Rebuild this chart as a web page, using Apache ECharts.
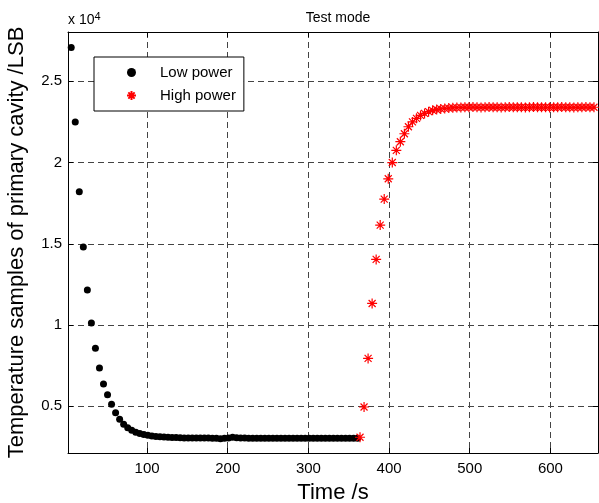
<!DOCTYPE html>
<html>
<head>
<meta charset="utf-8">
<script src="https://cdn.jsdelivr.net/npm/echarts@6/dist/echarts.min.js"></script>
<style>html,body{margin:0;padding:0;background:#fff}#c{width:599px;height:503px}</style>
</head>
<body>
<div id="c"></div>
<script>
var lowTime = [6,11,16,21,26,31,36,41,46,51,56,61,66,71,76,81,86,91,96,101,106,111,116,121,126,131,136,141,146,151,156,161,166,171,176,181,186,191,196,201,206,211,216,221,226,231,236,241,246,251,256,261,266,271,276,281,286,291,296,301,306,311,316,321,326,331,336,341,346,351,356,361];
var lowValues = [27070,22500,18200,14800,12160,10120,8570,7360,6370,5720,5130,4610,4200,3900,3690,3530,3410,3330,3270,3220,3180,3150,3130,3110,3100,3090,3080,3070,3060,3060,3055,3055,3050,3050,3050,3045,3040,3000,3030,3050,3100,3070,3050,3050,3045,3045,3040,3040,3040,3040,3035,3035,3035,3035,3035,3030,3030,3030,3030,3030,3030,3030,3030,3030,3030,3030,3030,3030,3030,3030,3030,3030];
var highTime = [364,369,374,379,384,389,394,399,404,409,414,419,424,429,434,439,444,449,454,459,464,469,474,479,484,489,494,499,504,509,514,519,524,529,534,539,544,549,554,559,564,569,574,579,584,589,594,599,604,609,614,619,624,629,634,639,644,649,654];
var highValues = [3100,4960,7950,11330,14040,16150,17750,19000,20000,20750,21280,21770,22200,22500,22720,22900,23020,23130,23210,23260,23300,23330,23350,23370,23380,23390,23400,23400,23410,23400,23390,23400,23410,23400,23400,23390,23400,23410,23400,23400,23400,23390,23400,23410,23400,23400,23400,23390,23400,23400,23410,23400,23400,23390,23400,23400,23410,23400,23400];
var xTicks = [100,200,300,400,500,600];
var yTicks = [5000,10000,15000,20000,25000];
var seriesNames = ['Low power','High power'];
var titleText = 'Test mode';
var xName = 'Time /s';
var yName = 'Temperature samples of primary cavity /LSB';

function zip(a,b){var r=[];for(var i=0;i<a.length;i++)r.push([a[i],b[i]]);return r;}
var star = 'path://M0,-10 L0,10 M-10,0 L10,0 M-7,-7 L7,7 M-7,7 L7,-7';
var font = 'Liberation Sans, Arial, Helvetica, sans-serif';
var gridLine = {show:true, lineStyle:{color:'#444', type:[6,4], width:1}};
var chart = echarts.init(document.getElementById('c'));
chart.setOption({
  animation:false,
  backgroundColor:'#fff',
  textStyle:{fontFamily:font},
  title:{text:titleText, left:333, top:6, textAlign:'center', textStyle:{fontSize:14, fontWeight:'normal', color:'#000', fontFamily:font}},
  grid:{left:68, right:1, top:32, bottom:50, containLabel:false, outerBoundsMode:'none'},
  legend:{
    orient:'vertical', left:94, top:57,
    backgroundColor:'#fff', borderColor:'#000', borderWidth:1, borderRadius:0,
    padding:[8,8,8,32], itemGap:8, itemWidth:9, itemHeight:9,
    textStyle:{fontSize:15, color:'#000', fontFamily:font, lineHeight:14, padding:[0,0,0,19]},
    data:[{name:seriesNames[0]},{name:seriesNames[1]}]
  },
  graphic:[{type:'text', left:68, top:11, style:{text:'x 10{s|4}', rich:{s:{fontSize:11, verticalAlign:'top', padding:[0,0,8,0]}}, font:'14px '+font, fill:'#000'}}],
  xAxis:[{
    type:'value', min:2, max:659, position:'bottom',
    name:xName, nameLocation:'middle', nameGap:29, nameTextStyle:{fontSize:22, color:'#000', fontFamily:font},
    axisLine:{show:true, lineStyle:{color:'#000', width:1}},
    axisTick:{show:true, inside:true, length:5, customValues:xTicks, lineStyle:{color:'#000'}},
    axisLabel:{show:true, customValues:xTicks, fontSize:15, color:'#000', margin:8, fontFamily:font},
    splitLine:gridLine
  },{
    type:'value', min:2, max:659, position:'top',
    axisLine:{show:true, lineStyle:{color:'#000', width:1}},
    axisTick:{show:true, inside:true, length:5, customValues:xTicks, lineStyle:{color:'#000'}},
    axisLabel:{show:false}, splitLine:{show:false}
  }],
  yAxis:[{
    type:'value', min:2130, max:28030, position:'left',
    name:yName, nameLocation:'middle', nameGap:40, nameRotate:90, nameTextStyle:{fontSize:22, color:'#000', fontFamily:font},
    axisLine:{show:true, lineStyle:{color:'#000', width:1}},
    axisTick:{show:true, inside:true, length:5, customValues:yTicks, lineStyle:{color:'#000'}},
    axisLabel:{show:true, customValues:yTicks, fontSize:15, color:'#000', margin:6, fontFamily:font, formatter:function(v){return String(v/10000);}},
    splitLine:gridLine
  },{
    type:'value', min:2130, max:28030, position:'right',
    axisLine:{show:true, lineStyle:{color:'#000', width:1}},
    axisTick:{show:true, inside:true, length:5, customValues:yTicks, lineStyle:{color:'#000'}},
    axisLabel:{show:false}, splitLine:{show:false}
  }],
  series:[{
    name:seriesNames[0], type:'scatter', data:zip(lowTime,lowValues),
    symbol:'circle', symbolSize:7, itemStyle:{color:'#000', opacity:1}
  },{
    name:seriesNames[1], type:'scatter', data:zip(highTime,highValues),
    symbol:star, symbolSize:10, itemStyle:{color:'rgba(0,0,0,0)', borderColor:'#ff0000', borderWidth:1.2, opacity:1}
  }]
});
</script>
</body>
</html>
